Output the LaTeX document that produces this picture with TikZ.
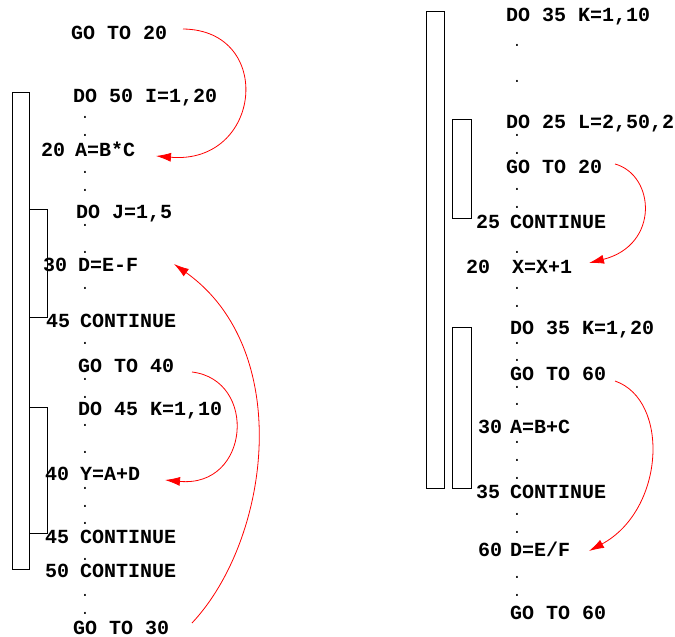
\documentclass[tikz,border=0pt]{standalone}
\usepackage{fontspec}
\setmonofont{Liberation Mono}
\usetikzlibrary{arrows.meta}
\tikzset{
  code/.style={anchor=base west, inner sep=0pt, font=\ttfamily\bfseries\fontsize{20}{20}\selectfont},
  dotn/.style={anchor=base, inner sep=0pt, font=\ttfamily\fontsize{14}{14}\selectfont},
  bar/.style={draw=black, line width=0.9pt},
  jump/.style={draw=red, line width=0.8pt, -{Latex[length=15pt,width=9pt]}},
}
\begin{document}
\begin{tikzpicture}[x=1pt,y=-1pt]
\useasboundingbox (0,0) rectangle (675,637);
% ---------- left program ----------
\draw[bar] (12,92) rectangle (29,569);
\draw[bar] (29,209) rectangle (47,317);
\draw[bar] (29,407) rectangle (47,533);
\node[code] (l1) at (71,39) {GO TO 20};
\node[code] (l2) at (73,102) {DO 50 I=1,20};
\node[code] (l3n) at (41,156) {20};
\node[code] (l3) at (75,156) {A=B*C};
\node[code] (l4) at (76,218) {DO J=1,5};
\node[code] (l5n) at (43,271) {30};
\node[code] (l5) at (78,271) {D=E-F};
\node[code] (l6n) at (46,327) {45};
\node[code] (l6) at (80,327) {CONTINUE};
\node[code] (l7) at (78,372) {GO TO 40};
\node[code] (l8) at (78,415) {DO 45 K=1,10};
\node[code] (l9n) at (45,480) {40};
\node[code] (l9) at (80,480) {Y=A+D};
\node[code] (l10n) at (45,543) {45};
\node[code] (l10) at (80,543) {CONTINUE};
\node[code] (l11n) at (45,577) {50};
\node[code] (l11) at (80,577) {CONTINUE};
\node[code] (l12) at (73,634) {GO TO 30};
\foreach \y in {117,135,172,190,225,252,270,288,343,379,397,425,452,488,506,523,559,595,613}
  \node[dotn] (ld\y) at (85,\y+1) {.};
% ---------- right program ----------
\draw[bar] (426,11) rectangle (444,488);
\draw[bar] (452,119) rectangle (471,218);
\draw[bar] (452,327) rectangle (471,488);
\node[code] (r1) at (506,21) {DO 35 K=1,10};
\node[code] (r2) at (506,128) {DO 25 L=2,50,2};
\node[code] (r3) at (506,173) {GO TO 20};
\node[code] (r4n) at (476,228) {25};
\node[code] (r4) at (510,228) {CONTINUE};
\node[code] (r5n) at (466,273) {20};
\node[code] (r5) at (512,273) {X=X+1};
\node[code] (r6) at (510,334) {DO 35 K=1,20};
\node[code] (r7) at (510,380) {GO TO 60};
\node[code] (r8n) at (478,433) {30};
\node[code] (r8) at (510,433) {A=B+C};
\node[code] (r9n) at (476,498) {35};
\node[code] (r9) at (510,498) {CONTINUE};
\node[code] (r10n) at (478,556) {60};
\node[code] (r10) at (510,556) {D=E/F};
\node[code] (r11) at (510,619) {GO TO 60};
\foreach \y in {45,81,135,153,189,207,252,288,306,343,360,387,404,442,460,478,514,532,577,595}
  \node[dotn] (rd\y) at (517,\y+1) {.};
% ---------- jumps ----------
\coordinate (a1s) at (183,29);  \coordinate (a1e) at (156,156);
\coordinate (a2s) at (192,623); \coordinate (a2e) at (174,264);
\coordinate (a3s) at (192,372); \coordinate (a3e) at (165,480);
\coordinate (a4s) at (615,164); \coordinate (a4e) at (589,263);
\coordinate (a5s) at (615,381); \coordinate (a5e) at (589,551);
\draw[jump] (a1s) .. controls (275,30) and (262,165) .. (a1e);
\draw[jump] (a2s) .. controls (270,540) and (295,350) .. (a2e);
\draw[jump] (a3s) .. controls (258,380) and (250,488) .. (a3e);
\draw[jump] (a4s) .. controls (655,175) and (660,245) .. (a4e);
\draw[jump] (a5s) .. controls (670,400) and (665,510) .. (a5e);
\end{tikzpicture}
\end{document}
